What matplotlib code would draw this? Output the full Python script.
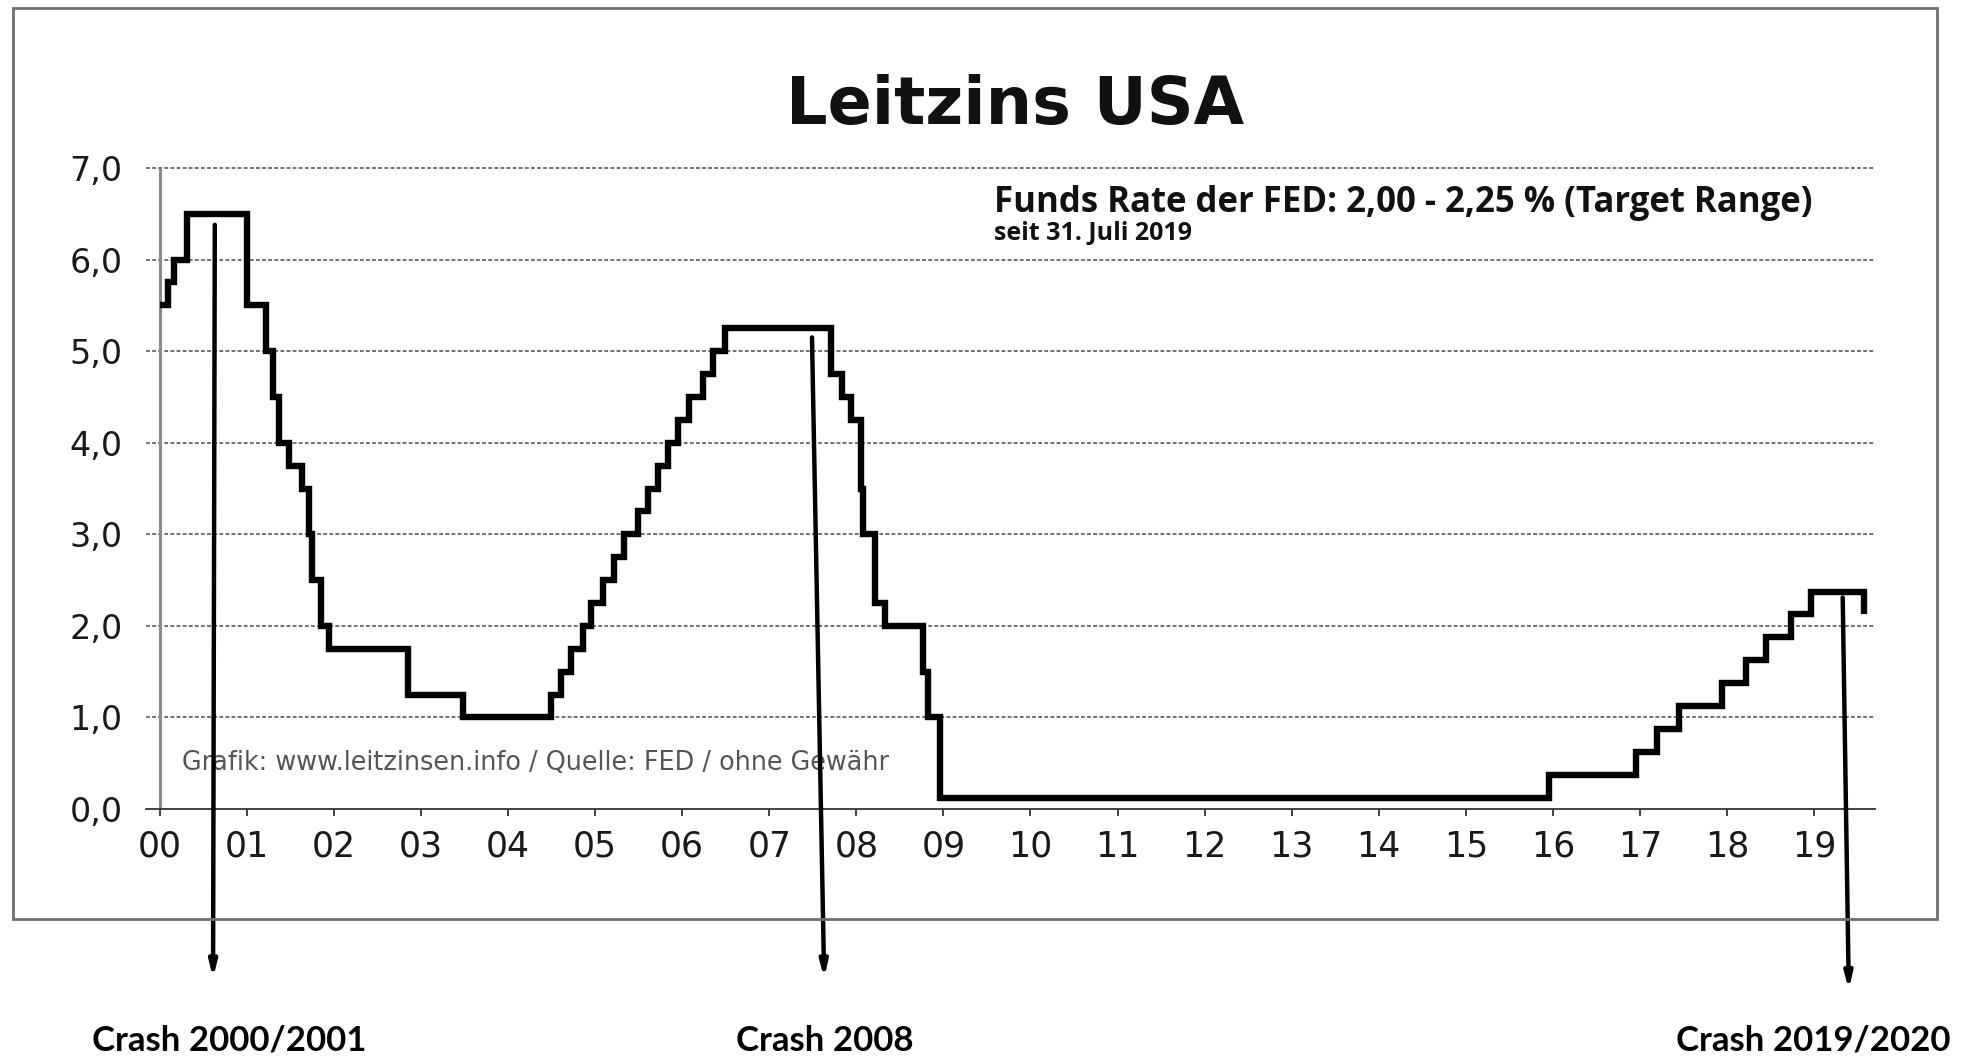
import matplotlib
matplotlib.use("Agg")
import matplotlib.pyplot as plt
import matplotlib.transforms as mtransforms
import matplotlib.patches as mpatches
import pandas as pd
import numpy as np

# ---- data ----
change_dates = ["2000-01-01", "2000-02-02", "2000-03-01", "2000-04-25",
                "2001-01-03", "2001-03-20", "2001-04-18", "2001-05-15",
                "2001-06-27", "2001-08-21", "2001-09-17", "2001-10-02", "2001-11-06",
                "2001-12-11", "2002-11-06", "2003-06-25", "2004-06-30", "2004-08-10",
                "2004-09-21", "2004-11-10", "2004-12-14", "2005-02-02", "2005-03-22",
                "2005-05-03", "2005-06-30", "2005-08-09", "2005-09-20", "2005-11-01",
                "2005-12-13", "2006-01-31", "2006-03-28", "2006-05-10", "2006-06-29",
                "2007-09-18", "2007-10-31", "2007-12-11", "2008-01-22", "2008-01-30",
                "2008-03-18", "2008-04-30", "2008-10-08", "2008-10-29", "2008-12-16",
                "2015-12-16", "2016-12-14", "2017-03-15", "2017-06-14", "2017-12-13",
                "2018-03-21", "2018-06-13", "2018-09-26", "2018-12-19", "2019-07-31"]
rates = [5.50, 5.75, 6.00, 6.50,
         5.50, 5.00, 4.50, 4.00,
         3.75, 3.50, 3.00, 2.50, 2.00,
         1.75, 1.25, 1.00, 1.25, 1.50,
         1.75, 2.00, 2.25, 2.50, 2.75,
         3.00, 3.25, 3.50, 3.75, 4.00,
         4.25, 4.50, 4.75, 5.00, 5.25,
         4.75, 4.50, 4.25, 3.50, 3.00,
         2.25, 2.00, 1.50, 1.00, 0.125,
         0.375, 0.625, 0.875, 1.125, 1.375,
         1.625, 1.875, 2.125, 2.375, 2.125]

year_ticks = list(range(0, 20))
year_labels = [f"{y:02d}" for y in year_ticks]
y_ticks = [0, 1, 2, 3, 4, 5, 6, 7]
y_labels = [f"{v},0" for v in y_ticks]

title = "Leitzins USA"
note_main = "Funds Rate der FED: 2,00 - 2,25 % (Target Range)"
note_sub = "seit 31. Juli 2019"
source = "Grafik: www.leitzinsen.info / Quelle: FED / ohne Gewähr"

crash_labels = ["Crash 2000/2001", "Crash 2008", "Crash 2019/2020"]
crash_start_x = [0.63, 7.49, 19.33]
crash_start_y = [6.38, 5.15, 2.31]
crash_end_x = [0.61, 7.63, 19.40]
crash_end_fig_y = [0.077, 0.077, 0.066]
crash_label_x = [0.80, 7.64, 18.99]

# ---- convert dates to years since 2000 ----
d = pd.to_datetime(pd.Series(change_dates))
x = (d.dt.year - 2000) + (d.dt.dayofyear - 1) / np.where(d.dt.is_leap_year, 366, 365)
x = x.to_numpy(dtype=float)

fig = plt.figure(figsize=(19.68, 10.60), dpi=100)
fig.patch.set_facecolor("white")

ax = fig.add_axes([0.0742, 0.2368, 0.9527 - 0.0742, 0.8415 - 0.2368])
ax.set_xlim(-0.16, 19.70)
ax.set_ylim(0, 7)

# gridlines
for v in y_ticks[1:]:
    ax.axhline(v, color="#4a4a4a", lw=1.1, ls=(0, (2.5, 1.5)), zorder=1, clip_on=False)

# y axis line at x = 0
ax.plot([0, 0], [0, 7], color="#8a8a8a", lw=2.2, zorder=2, solid_capstyle="butt")

# step line
ax.step(x, rates, where="post", color="black", lw=4.6, zorder=3,
        solid_joinstyle="miter", solid_capstyle="butt")

for s in ["top", "right", "left"]:
    ax.spines[s].set_visible(False)
ax.spines["bottom"].set_color("#333333")
ax.spines["bottom"].set_linewidth(1.3)

ax.set_xticks(year_ticks)
ax.set_xticklabels(year_labels, fontsize=25, family="DejaVu Sans", color="#1a1a1a")
ax.tick_params(axis="x", direction="out", length=5, width=1.3, color="#333333", pad=10)
ax.set_yticks(y_ticks)
ax.set_yticklabels(y_labels, fontsize=24, family="DejaVu Sans", color="#1a1a1a")
ax.tick_params(axis="y", length=0, pad=17)

# annotations inside axes
ax.text(9.58, 6.62, note_main, fontsize=25, fontweight="bold", family="Open Sans",
        ha="left", va="center", color="#111111")
ax.text(9.58, 6.29, note_sub, fontsize=18, fontweight="bold", family="Open Sans",
        ha="left", va="center", color="#111111")
ax.text(0.25, 0.50, source, fontsize=18.4, family="DejaVu Sans",
        ha="left", va="center", color="#555555")

# title
fig.text(0.516, 0.900, title, fontsize=47, fontweight="bold", family="DejaVu Sans",
         ha="center", va="center", color="#111111")

# outer frame
frame = mpatches.Rectangle((0.00645, 0.133), 0.978, 0.859, transform=fig.transFigure,
                           fill=False, edgecolor="#6e6e6e", lw=2.0, zorder=0)
fig.patches.append(frame)

# crash arrows and labels
blend = mtransforms.blended_transform_factory(ax.transData, fig.transFigure)
for lab, xs, ys, xe, ye, xl in zip(crash_labels, crash_start_x, crash_start_y,
                                   crash_end_x, crash_end_fig_y, crash_label_x):
    ax.annotate("", xy=(xe, ye), xycoords=("data", "figure fraction"),
                xytext=(xs, ys), textcoords="data",
                arrowprops=dict(arrowstyle="-|>,head_length=0.9,head_width=0.22",
                                lw=3.2, color="black", shrinkA=0, shrinkB=0),
                annotation_clip=False, zorder=5)
    ax.text(xl, 0.018, lab, transform=blend, fontsize=25, fontweight="bold",
            family="Lato", ha="center", va="center", color="black", clip_on=False)

fig.savefig("out.png", dpi=100, facecolor="white")
